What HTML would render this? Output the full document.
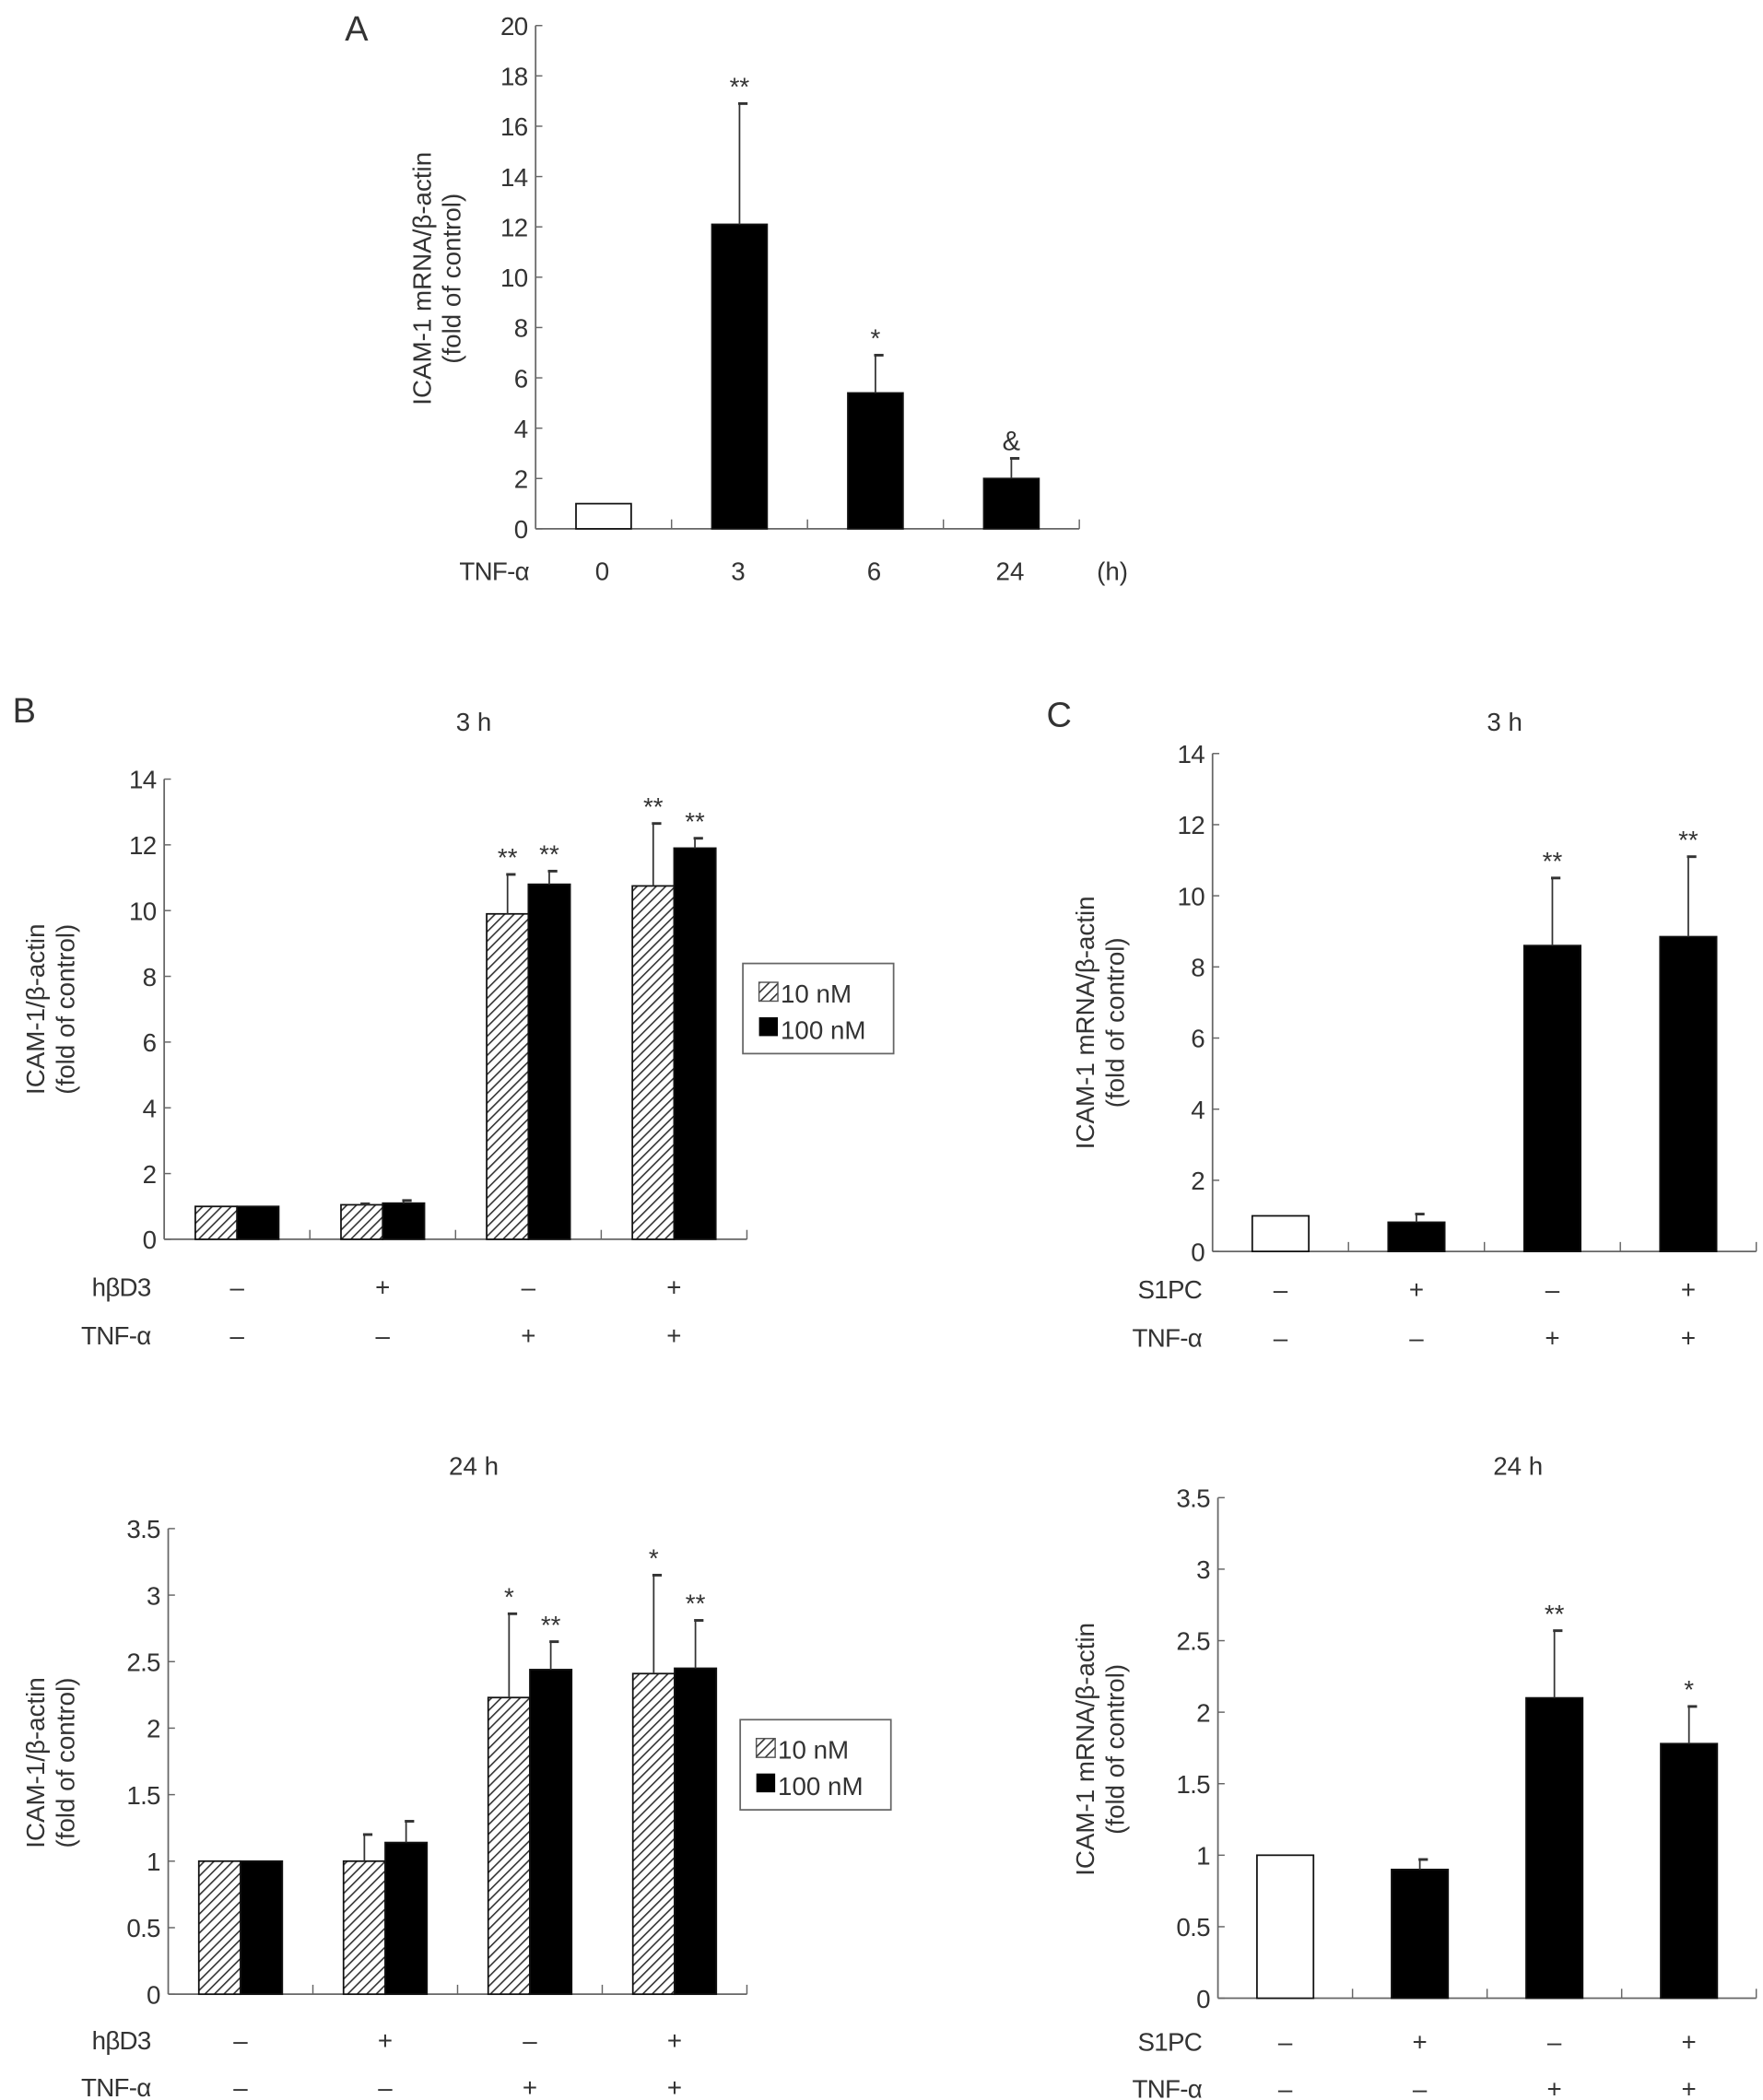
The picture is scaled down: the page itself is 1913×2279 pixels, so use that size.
<!DOCTYPE html>
<html><head><meta charset="utf-8"><style>
html,body{margin:0;padding:0;background:#fff;}
svg{display:block;}
text{font-family:"Liberation Sans",sans-serif;fill:#333;}
</style></head><body>
<svg id="fig" width="1913" height="2279" viewBox="0 0 1913 2279" xmlns="http://www.w3.org/2000/svg">
<defs>
<pattern id="hatch" patternUnits="userSpaceOnUse" width="5" height="5" patternTransform="rotate(45)">
<rect width="5" height="5" fill="#fff"/><line x1="0" y1="0" x2="0" y2="5" stroke="#333" stroke-width="2.2"/>
</pattern>
</defs>
<g id="root" transform="scale(1.4603)"></g>
</svg>
<script>
// Panel A
const catsA = ["0","3","6","24"];
const valsA = [1, 12.1, 5.4, 2.0];
const errA = [null, 16.9, 6.9, 2.8];
const sigA = ["", "**", "*", "&"];
const ticksA = [0,2,4,6,8,10,12,14,16,18,20];
// Panel B 3h
const b3_10 = [1, 1.05, 9.9, 10.75];
const b3_10err = [null, 1.08, 11.1, 12.65];
const b3_100 = [1, 1.1, 10.8, 11.9];
const b3_100err = [null, 1.18, 11.2, 12.2];
const b3_10sig = ["", "", "**", "**"];
const b3_100sig = ["", "", "**", "**"];
const ticksB3 = [0,2,4,6,8,10,12,14];
// Panel B 24h
const b24_10 = [1, 1, 2.23, 2.41];
const b24_10err = [null, 1.2, 2.86, 3.15];
const b24_100 = [1, 1.14, 2.44, 2.45];
const b24_100err = [null, 1.3, 2.65, 2.81];
const b24_10sig = ["", "", "*", "*"];
const b24_100sig = ["", "", "**", "**"];
const ticks35 = [0,0.5,1,1.5,2,2.5,3,3.5];
// Panel C
const c3 = [1, 0.82, 8.6, 8.85];
const c3err = [null, 1.05, 10.5, 11.1];
const c3sig = ["", "", "**", "**"];
const c24 = [1, 0.9, 2.1, 1.78];
const c24err = [null, 0.97, 2.57, 2.04];
const c24sig = ["", "", "**", "*"];
// condition rows
const rowHbd = ["–","+","–","+"];
const rowTnf = ["–","–","+","+"];

const NS="http://www.w3.org/2000/svg";
const root=document.getElementById('root');
function el(tag,attrs,parent,txt){const e=document.createElementNS(NS,tag);for(const k in attrs)e.setAttribute(k,attrs[k]);if(txt!==undefined)e.textContent=txt;(parent||root).appendChild(e);return e;}

function panel(cfg){
  const g=el('g',{});
  
  
  const {ax,x1,y0,ytop,max,ticks}=cfg;
  const ys=v=>y0-(v/max)*(y0-ytop);
  const band=(x1-ax)/4;
  const cx=i=>ax+band*(i+0.5);
  const yl=el('line',{x1:ax,y1:ytop,x2:ax,y2:y0,stroke:'#666','stroke-width':1.2},g);
  
  
  const xl=el('line',{x1:ax,y1:y0,x2:x1,y2:y0,stroke:'#666','stroke-width':1.2},g);
  
  
  for(let i=1;i<=4;i++){el('line',{x1:ax+band*i,y1:y0,x2:ax+band*i,y2:y0-7,stroke:'#666','stroke-width':1},g);}
  ticks.forEach(t=>{
    el('line',{x1:ax,y1:ys(t),x2:ax+5,y2:ys(t),stroke:'#666','stroke-width':1},g);
    const tl=el('text',{x:ax-6,y:ys(t)+7,'text-anchor':'end','font-size':19,'letter-spacing':-0.5},g,String(t));
    
    
  });
  const lab=el('text',{transform:`translate(${cfg.ylx},${cfg.yly}) rotate(-90)`,'text-anchor':'middle','font-size':19},g);
  
  
  el('tspan',{x:0,dy:0},lab,cfg.ylabel);
  el('tspan',{x:0,dy:22},lab,'(fold of control)');
  cfg.series.forEach((s,si)=>{
    s.vals.forEach((v,i)=>{
      const bx=cx(i)+s.off-s.w/2;
      const fill = s.fill==='firstwhite' ? (i===0?'#fff':'#000') : s.fill;
      const r=el('rect',{x:bx,y:ys(v),width:s.w,height:y0-ys(v),fill:fill,stroke:'#111','stroke-width':1.2},g);
      
      
      const e=s.err[i];
      if(e!=null){
        const ex=cx(i)+s.off;
        el('line',{x1:ex,y1:ys(v),x2:ex,y2:ys(e),stroke:'#333','stroke-width':1.2},g);
        el('line',{x1:ex-1,y1:ys(e),x2:ex+6,y2:ys(e),stroke:'#333','stroke-width':2},g);
      }
      if(s.sig[i]){
        const st=el('text',{x:cx(i)+s.off,y:ys(e!=null?e:v)-6,'text-anchor':'middle','font-size':s.sig[i]==='&'?20:19},g,s.sig[i]);
        
        
      }
    });
  });
  cfg.rows.forEach(row=>{
    const rl=el('text',{x:cfg.rowLabelX,y:row.y+7,'text-anchor':'end','font-size':19,'letter-spacing':-0.5},g,row.label);
    
    
    row.vals.forEach((v,i)=>{
      const t=el('text',{x:cx(i)+(cfg.rowOff||0),y:row.y+7,'text-anchor':'middle','font-size':19},g,v);
      
      
    });
    if(row.unit){el('text',{x:row.unitX,y:row.y+7,'font-size':19},g,row.unit);}
  });
  if(cfg.title){
    const tt=el('text',{x:cfg.title.x,y:cfg.title.y+7,'text-anchor':'middle','font-size':19},g,cfg.title.t);
    
    
  }
  if(cfg.legend){
    const L=cfg.legend;
    const lg=el('g',{},g);
    
    
    el('rect',{x:L.x,y:L.y,width:112,height:67,fill:'#fff',stroke:'#666','stroke-width':1.2},lg);
    el('rect',{x:L.x+12,y:L.y+14,width:14,height:14,fill:'url(#hatch)',stroke:'#555','stroke-width':1},lg);
    el('text',{x:L.x+28,y:L.y+29,'font-size':19},lg,'10 nM');
    el('rect',{x:L.x+12,y:L.y+40,width:14,height:14,fill:'#000'},lg);
    el('text',{x:L.x+28,y:L.y+56,'font-size':19},lg,'100 nM');
  }
}
function letter(t,x,y){const l=el('text',{x:x,y:y,'font-size':26,'text-anchor':'middle'},root,t);
  
  }

letter('A',265,30); letter('B',18,537); letter('C',787,540);

panel({name:'panel-a',ax:398,x1:802,y0:393,ytop:19,max:20,ticks:ticksA,
  ylabel:'ICAM-1 mRNA/β-actin',ylx:320,yly:207,
  series:[{vals:valsA,err:errA,sig:sigA,w:41,off:0,fill:'firstwhite'}],
  rows:[{label:'TNF-α',y:424,vals:catsA,unit:'(h)',unitX:815}],rowLabelX:393,rowOff:-1});

panel({name:'panel-b-3h',ax:122,x1:555,y0:921,ytop:579,max:14,ticks:ticksB3,
  ylabel:'ICAM-1/β-actin',ylx:33,yly:750,
  series:[{vals:b3_10,err:b3_10err,sig:b3_10sig,w:31,off:-15.5,fill:'url(#hatch)'},
          {vals:b3_100,err:b3_100err,sig:b3_100sig,w:31,off:15.5,fill:'#000'}],
  rows:[{label:'hβD3',y:956,vals:rowHbd},{label:'TNF-α',y:992,vals:rowTnf}],rowLabelX:112,
  title:{t:'3 h',x:352,y:536},legend:{x:552,y:716}});

panel({name:'panel-b-24h',ax:125,x1:555,y0:1482,ytop:1136,max:3.5,ticks:ticks35,
  ylabel:'ICAM-1/β-actin',ylx:33,yly:1310,
  series:[{vals:b24_10,err:b24_10err,sig:b24_10sig,w:31,off:-15.5,fill:'url(#hatch)'},
          {vals:b24_100,err:b24_100err,sig:b24_100sig,w:31,off:15.5,fill:'#000'}],
  rows:[{label:'hβD3',y:1516,vals:rowHbd},{label:'TNF-α',y:1551,vals:rowTnf}],rowLabelX:112,
  title:{t:'24 h',x:352,y:1089},legend:{x:550,y:1278}});

panel({name:'panel-c-3h',ax:901,x1:1305,y0:930,ytop:560,max:14,ticks:ticksB3,
  ylabel:'ICAM-1 mRNA/β-actin',ylx:813,yly:760,
  series:[{vals:c3,err:c3err,sig:c3sig,w:42,off:0,fill:'firstwhite'}],
  rows:[{label:'S1PC',y:958,vals:rowHbd},{label:'TNF-α',y:994,vals:rowTnf}],rowLabelX:893,
  title:{t:'3 h',x:1118,y:536}});

panel({name:'panel-c-24h',ax:905,x1:1305,y0:1485,ytop:1113,max:3.5,ticks:ticks35,
  ylabel:'ICAM-1 mRNA/β-actin',ylx:813,yly:1300,
  series:[{vals:c24,err:c24err,sig:c24sig,w:42,off:0,fill:'firstwhite'}],
  rows:[{label:'S1PC',y:1517,vals:rowHbd},{label:'TNF-α',y:1552,vals:rowTnf}],rowLabelX:893,
  title:{t:'24 h',x:1128,y:1089}});
</script>
</body></html>
